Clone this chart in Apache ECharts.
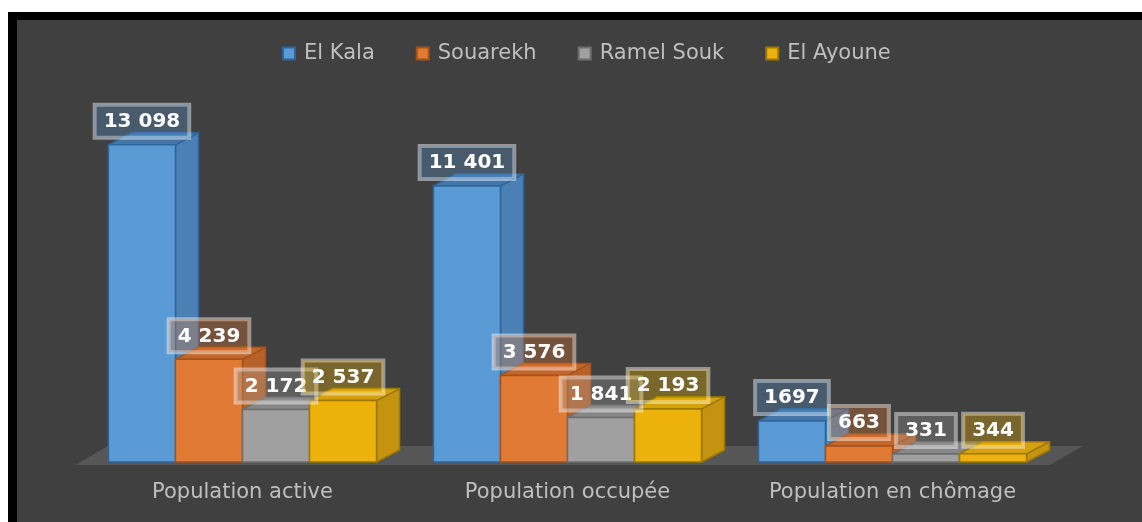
<!DOCTYPE html>
<html>
<head>
<meta charset="utf-8">
<script src="https://cdn.jsdelivr.net/npm/echarts@6/dist/echarts.min.js"></script>
<style>
  html, body { margin: 0; padding: 0; background: #fff; }
  #frame { position: absolute; left: 8px; top: 12px; width: 1134px; height: 510px; background: #000; }
  #chart { position: absolute; left: 9px; top: 8px; width: 1125px; height: 502px; }
</style>
</head>
<body>
<div id="frame"><div id="chart"></div></div>
<script>
const categories = ["Population active", "Population occupée", "Population en chômage"];
const seriesNames = ["El Kala", "Souarekh", "Ramel Souk", "El Ayoune"];

const elKala = [13098, 11401, 1697];
const souarekh = [4239, 3576, 663];
const ramelSouk = [2172, 1841, 331];
const elAyoune = [2537, 2193, 344];

// data labels as printed on the source chart (1697 has no thousands space)
const elKalaLabels = ["13 098", "11 401", "1697"];
const souarekhLabels = ["4 239", "3 576", "663"];
const ramelSoukLabels = ["2 172", "1 841", "331"];
const elAyouneLabels = ["2 537", "2 193", "344"];

const values = [elKala, souarekh, ramelSouk, elAyoune];
const labels = [elKalaLabels, souarekhLabels, ramelSoukLabels, elAyouneLabels];

// front / side / top / edge / label box colours
const palette = [
  { front: "#5b9bd5", side: "#4a80b3", top: "#4476a8", edge: "#2f659b", box: "rgba(91,155,213,0.3)" },
  { front: "#e07a35", side: "#b8622a", top: "#c4672c", edge: "#a4521b", box: "rgba(237,125,49,0.3)" },
  { front: "#a0a0a0", side: "#7e7e7e", top: "#878787", edge: "#6e6e6e", box: "rgba(165,165,165,0.3)" },
  { front: "#ecb10a", side: "#c49310", top: "#d6a10a", edge: "#9c7800", box: "rgba(255,192,0,0.3)" },
];

const DX = 23;   // depth offset of the 3d faces
const DY = -12;
const GROUP = 0.825; // share of the category band used by the 4 bars
const FONT = "DejaVu Sans";

function geom(api, si) {
  const c = api.value(0);
  const v = api.value(1);
  const base = api.coord([c, 0]);
  const top = api.coord([c, v]);
  const band = api.size([1, 0])[0];
  const w = (band * GROUP) / 4;
  const x = base[0] - (band * GROUP) / 2 + si * w;
  return { x: x, w: w, y0: base[1], y1: top[1] };
}

function barSeries(si) {
  const col = palette[si];
  return {
    name: seriesNames[si],
    type: "custom",
    z: 2,
    clip: false,
    itemStyle: { color: col.front, borderColor: col.edge, borderWidth: 1.5 },
    encode: { x: 0, y: 1 },
    data: values[si].map((v, i) => [i, v]),
    renderItem: function (params, api) {
      const g = geom(api, si);
      const x = g.x, w = g.w, y0 = g.y0, y1 = g.y1;
      const line = { stroke: col.edge, lineWidth: 1.5, lineJoin: "round" };
      return {
        type: "group",
        children: [
          {
            type: "polygon",
            shape: { points: [[x + w, y1], [x + w + DX, y1 + DY], [x + w + DX, y0 + DY], [x + w, y0]] },
            style: Object.assign({ fill: col.side }, line),
          },
          {
            type: "polygon",
            shape: { points: [[x, y1], [x + DX, y1 + DY], [x + w + DX, y1 + DY], [x + w, y1]] },
            style: Object.assign({ fill: col.top }, line),
          },
          {
            type: "rect",
            shape: { x: x, y: y1, width: w, height: y0 - y1 },
            style: Object.assign({ fill: col.front }, line),
          },
        ],
      };
    },
  };
}

function labelSeries(si) {
  const col = palette[si];
  return {
    name: seriesNames[si],
    type: "custom",
    z: 5,
    clip: false,
    silent: true,
    itemStyle: { color: col.front },
    encode: { x: 0, y: 1 },
    data: values[si].map((v, i) => [i, v]),
    renderItem: function (params, api) {
      const g = geom(api, si);
      return {
        type: "text",
        style: {
          x: g.x + g.w / 2,
          y: g.y1 - 7,
          text: labels[si][params.dataIndex],
          align: "center",
          verticalAlign: "bottom",
          fill: "#ffffff",
          font: "bold 20px '" + FONT + "'",
          backgroundColor: col.box,
          borderColor: "rgba(255,255,255,0.45)",
          borderWidth: 2,
          padding: [7, 9, 6, 9],
        },
      };
    },
  };
}

// grey floor under the bars, built from the grid rectangle
const floorSeries = {
  type: "custom",
  z: 1,
  clip: false,
  silent: true,
  data: [[0, 0]],
  encode: { x: 0, y: 1 },
  renderItem: function (params, api) {
    const cs = params.coordSys;
    const yb = cs.y + cs.height + 3;
    return {
      type: "polygon",
      shape: {
        points: [
          [cs.x - 5, yb],
          [cs.x + cs.width - 5, yb],
          [cs.x + cs.width + 28, yb - 19],
          [cs.x + 28, yb - 19],
        ],
      },
      style: { fill: "#565656" },
    };
  },
};

const chart = echarts.init(document.getElementById("chart"));
chart.setOption({
  backgroundColor: "#404040",
  animation: false,
  legend: {
    data: seriesNames,
    left: 260,
    top: 18,
    icon: "rect",
    itemWidth: 12,
    itemHeight: 12,
    itemGap: 41,
    textStyle: { color: "#bfbfbf", fontSize: 21, fontFamily: FONT, padding: [0, 0, 0, 4] },
  },
  grid: { left: 63, right: 87, top: 103, bottom: 60 },
  xAxis: {
    type: "category",
    data: categories,
    axisLine: { show: false },
    axisTick: { show: false },
    axisLabel: { color: "#bfbfbf", fontSize: 21, fontFamily: FONT, margin: 20 },
  },
  yAxis: { type: "value", min: 0, max: 14000, show: false },
  series: [floorSeries]
    .concat([0, 1, 2, 3].map(barSeries))
    .concat([0, 1, 2, 3].map(labelSeries)),
});
</script>
</body>
</html>
